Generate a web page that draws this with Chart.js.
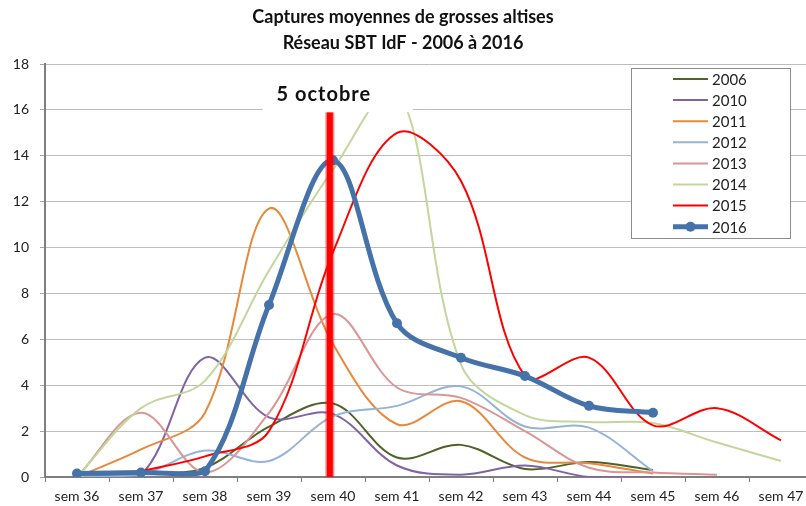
<!DOCTYPE html>
<html>
<head>
<meta charset="utf-8">
<script src="https://cdn.jsdelivr.net/npm/chart.js@4.4.1/dist/chart.umd.min.js"></script>
<style>
  html, body { margin: 0; padding: 0; background: #fff; overflow: hidden; width: 806px; height: 506px; }
  #wrap { width: 820px; height: 506px; }
</style>
</head>
<body>
<div id="wrap"><canvas id="chart" width="820" height="506"></canvas></div>
<script>
// weeks on the x axis
const weeks = ['sem 36', 'sem 37', 'sem 38', 'sem 39', 'sem 40', 'sem 41', 'sem 42', 'sem 43', 'sem 44', 'sem 45', 'sem 46', 'sem 47'];
const years = ['2006', '2010', '2011', '2012', '2013', '2014', '2015', '2016'];

// mean catches per week
const y2006 = [0, 0.15, 0.4, 2.2, 3.2, 0.85, 1.4, 0.35, 0.65, 0.3, null, null];
const y2010 = [0, 0.1, 5.2, 2.6, 2.75, 0.5, 0.1, 0.5, 0, 0, null, null];
const y2011 = [0, 1.2, 2.8, 11.7, 5.8, 2.3, 3.3, 0.85, 0.6, 0.15, null, null];
const y2012 = [0, 0.1, 1.15, 0.7, 2.65, 3.1, 3.95, 2.2, 2.15, 0.25, null, null];
const y2013 = [0, 2.8, 0.2, 2.8, 7.1, 3.9, 3.45, 2.0, 0.4, 0.2, 0.1, null];
const y2014 = [0, 3.0, 4.2, 9.0, 13.4, 16.9, 4.9, 2.7, 2.4, 2.35, 1.5, 0.7];
const y2015 = [null, 0.25, 0.9, 2.0, 9.8, 15.0, 12.9, 4.4, 5.2, 2.25, 3.0, 1.6];
const y2016 = [0.15, 0.2, 0.25, 7.5, 13.8, 6.7, 5.2, 4.4, 3.1, 2.8, null, null];

const yMax = 18;
const yStep = 2;

// "5 octobre" marker, given as a week index
const markerWeek = 3.95;
const markerTop = 15.9;
const markerText = '5 octobre';

const titleLines = ['Captures moyennes de grosses altises', 'Réseau SBT IdF - 2006 à 2016'];

const series = [y2006, y2010, y2011, y2012, y2013, y2014, y2015, y2016];
const colors = ['#4F6228', '#8064A2', '#E8883A', '#95B3D7', '#D99694', '#C3D69B', '#FF0000', '#4672AA'];

const FONT = 'Lato, "Open Sans", sans-serif';

let datasets = [];
for (let i in series) {
  let last = i == series.length - 1;
  datasets.push({
    label: years[i],
    data: series[i],
    borderColor: colors[i],
    backgroundColor: colors[i],
    borderWidth: last ? 5 : 2,
    pointRadius: last ? 5 : 0,
    pointHoverRadius: last ? 5 : 0,
    pointBorderWidth: 0,
    tension: 0.35,
    fill: false,
    order: series.length - 1 - i
  });
}

const decor = {
  id: 'decor',
  afterDatasetsDraw(chart) {
    const ctx = chart.ctx;
    const x = chart.scales.x, y = chart.scales.y;
    const mx = x.getPixelForValue(markerWeek);
    const top = y.getPixelForValue(markerTop);
    const bottom = y.getPixelForValue(0);
    ctx.save();
    // red vertical line
    ctx.strokeStyle = 'rgba(255,0,0,0.45)';
    ctx.lineWidth = 9;
    ctx.beginPath(); ctx.moveTo(mx, top); ctx.lineTo(mx, bottom); ctx.stroke();
    ctx.strokeStyle = '#FF0000';
    ctx.lineWidth = 6;
    ctx.beginPath(); ctx.moveTo(mx, top); ctx.lineTo(mx, bottom); ctx.stroke();
    // white label box
    ctx.fillStyle = '#fff';
    ctx.fillRect(mx - 67, chart.chartArea.top + 2, 150, top - chart.chartArea.top - 2);
    ctx.fillStyle = '#111';
    ctx.font = 'bold 20px ' + FONT;
    ctx.letterSpacing = '1px';
    ctx.textAlign = 'center';
    ctx.textBaseline = 'middle';
    ctx.fillText(markerText, mx - 6, 95);
    ctx.restore();
  },
  afterDraw(chart) {
    const ctx = chart.ctx;
    ctx.save();
    // title
    ctx.fillStyle = '#111';
    ctx.font = 'bold 18px ' + FONT;
    ctx.textAlign = 'center';
    ctx.textBaseline = 'middle';
    ctx.fillText(titleLines[0], 403, 17);
    ctx.fillText(titleLines[1], 403, 43);
    // legend
    ctx.fillStyle = '#fff';
    ctx.fillRect(631, 68, 159, 170);
    ctx.strokeStyle = '#8C8C8C';
    ctx.lineWidth = 1;
    ctx.strokeRect(631.5, 68.5, 159, 170);
    ctx.font = '15px ' + FONT;
    ctx.textAlign = 'left';
    chart.data.datasets.forEach(function(ds, i) {
      let yy = 79 + i * 21.1;
      ctx.strokeStyle = ds.borderColor;
      ctx.lineWidth = ds.borderWidth;
      ctx.beginPath(); ctx.moveTo(673, yy); ctx.lineTo(708, yy); ctx.stroke();
      if (ds.pointRadius > 0) {
        ctx.fillStyle = ds.borderColor;
        ctx.beginPath(); ctx.arc(690.5, yy, ds.pointRadius, 0, Math.PI * 2); ctx.fill();
      }
      ctx.fillStyle = '#222';
      ctx.fillText(ds.label, 712, yy + 1);
    });
    ctx.restore();
  }
};

new Chart(document.getElementById('chart'), {
  type: 'line',
  data: { labels: weeks, datasets: datasets },
  plugins: [decor],
  options: {
    responsive: false,
    animation: false,
    layout: { padding: { top: 64, right: 7, left: 0, bottom: 0 } },
    plugins: {
      legend: { display: false },
      title: { display: false },
      tooltip: { enabled: false }
    },
    scales: {
      x: {
        offset: true,
        grid: { offset: true, drawOnChartArea: false, drawTicks: true, tickLength: 5, color: '#7F7F7F' },
        border: { color: '#7F7F7F', width: 2 },
        ticks: { color: '#222', font: { family: FONT, size: 14 }, padding: 6, maxRotation: 0, autoSkip: false },
        afterFit(s) { s.height = 29; }
      },
      y: {
        min: 0,
        max: yMax,
        ticks: { stepSize: yStep, color: '#222', font: { family: FONT, size: 14 }, padding: 11 },
        grid: { color: '#BDBDBD', tickLength: 5, tickColor: '#A6A6A6' },
        border: { color: '#7F7F7F', width: 2 },
        afterFit(s) { s.width = 45; }
      }
    }
  }
});
</script>
</body>
</html>
